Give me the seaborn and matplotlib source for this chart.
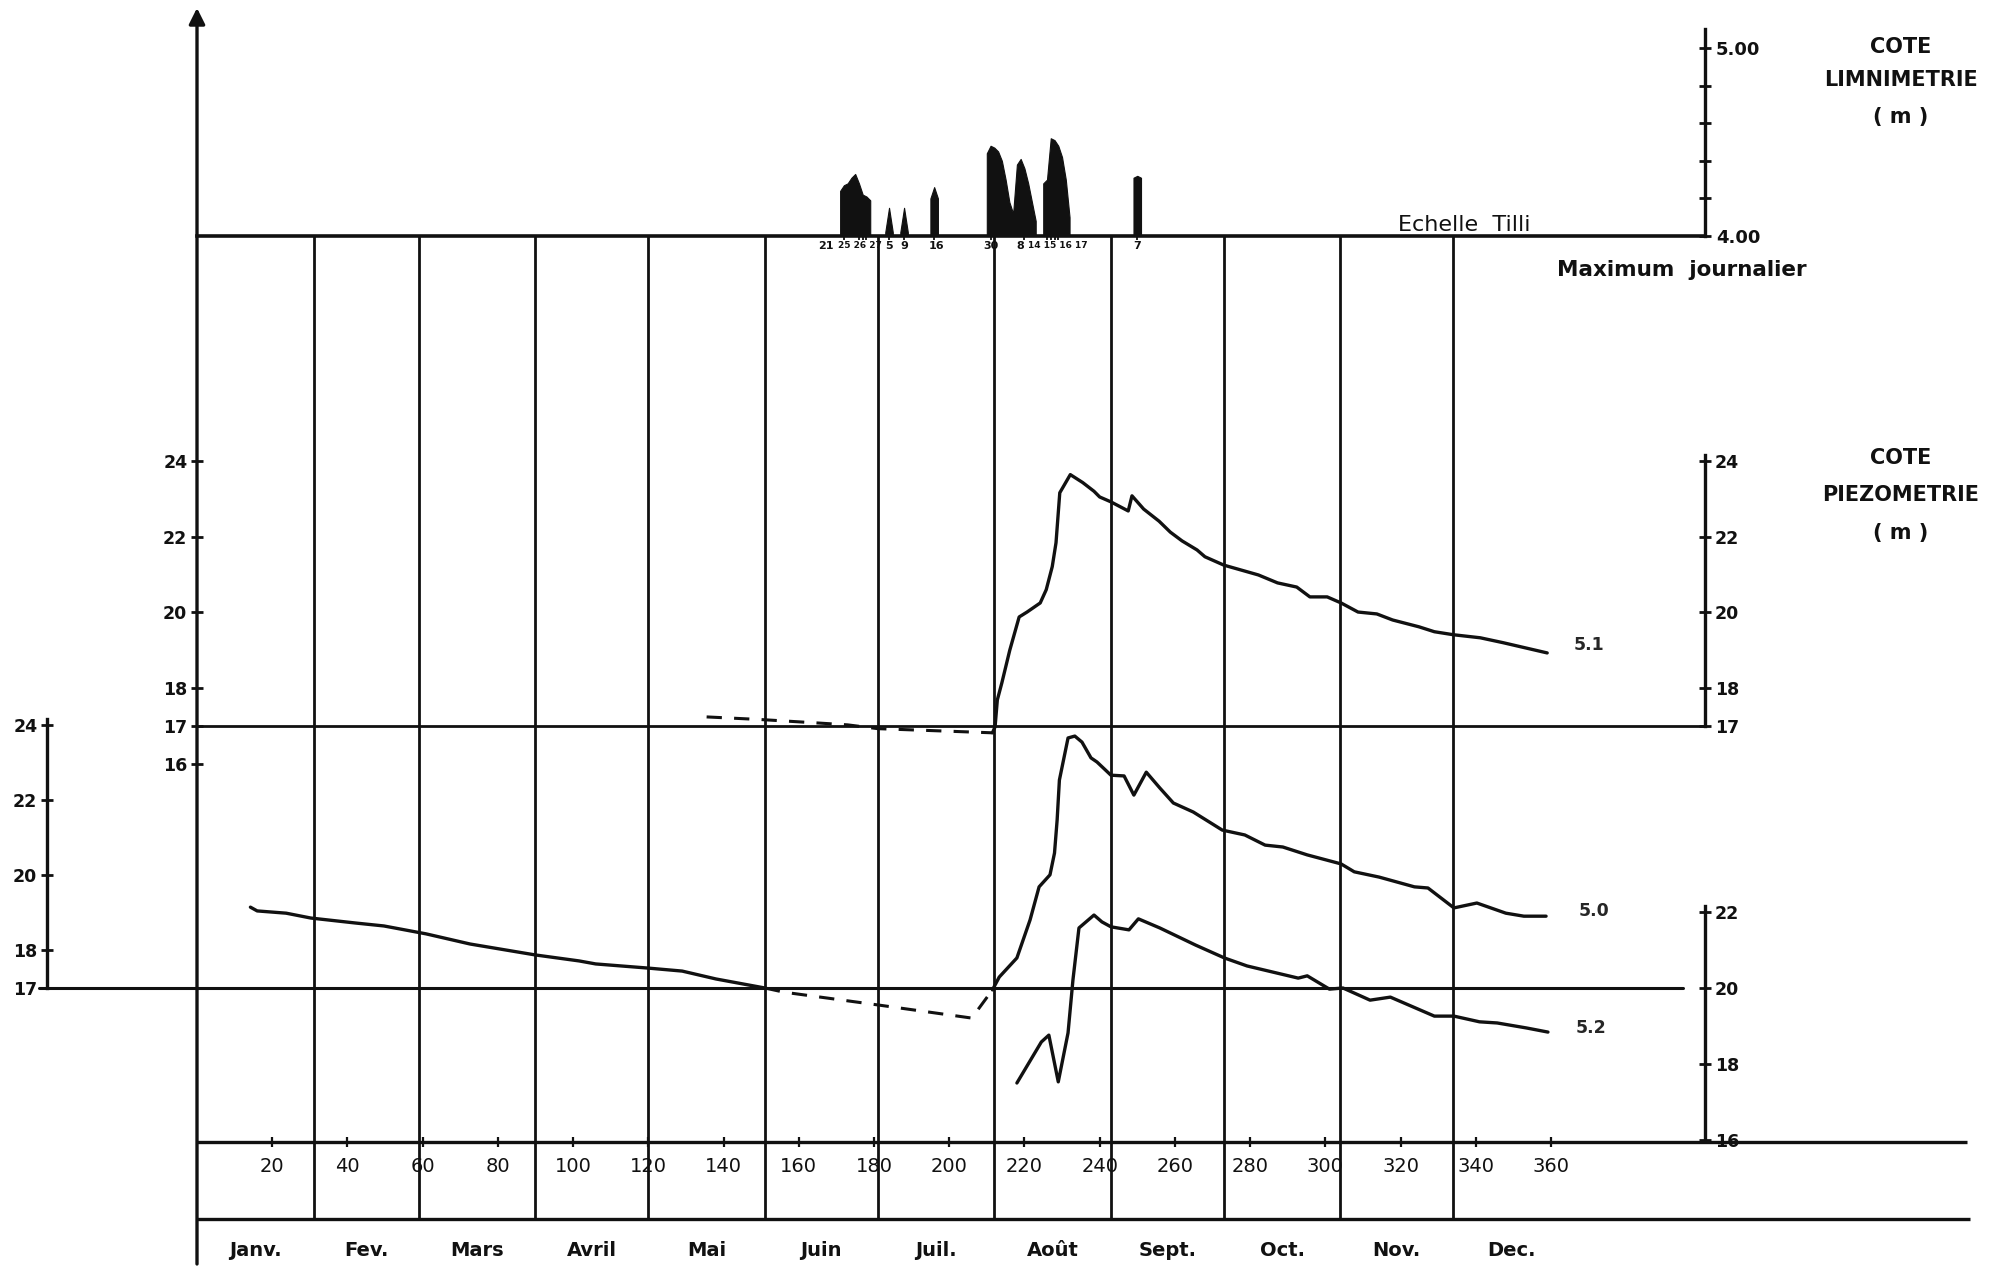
import numpy as np
import pandas as pd
import matplotlib
matplotlib.use("Agg")
import matplotlib.pyplot as plt
import matplotlib.transforms as mtransforms
import seaborn as sns

# ---------------- data ----------------
months = ["Janv.", "Fev.", "Mars", "Avril", "Mai", "Juin", "Juil.", "Août",
          "Sept.", "Oct.", "Nov.", "Dec."]
month_start = [0, 31, 59, 90, 120, 151, 181, 212, 243, 273, 304, 334]
month_mid = [15.5, 45, 74.5, 105, 135.5, 166, 196.5, 227.5, 258, 288.5, 319, 349.5]
day_ticks = list(range(20, 361, 20))

# Echelle Tilli - maximum journalier (m)
limni_event = [1]*9 + [2]*3 + [3]*3 + [4]*3 + [5]*14 + [6]*8 + [7]*3
limni_day = [171, 172, 173, 174, 175, 176, 177, 178, 179,
             183, 184, 185,
             187, 188, 189,
             195, 196, 197,
             210, 211, 212, 213, 214, 215, 216, 217, 218, 219, 220, 221, 222, 223,
             225, 226, 227, 228, 229, 230, 231, 232,
             249, 250, 251]
limni_level = [4.24, 4.27, 4.28, 4.31, 4.33, 4.28, 4.22, 4.21, 4.19,
               4.02, 4.15, 4.02,
               4.02, 4.15, 4.02,
               4.20, 4.26, 4.20,
               4.44, 4.48, 4.47, 4.45, 4.40, 4.30, 4.18, 4.12, 4.38, 4.41, 4.36, 4.28, 4.18, 4.08,
               4.28, 4.30, 4.52, 4.51, 4.48, 4.42, 4.30, 4.10,
               4.31, 4.32, 4.31]
# dated events (tick marks) and their date labels as written under the scale
limni_date_days = [172, 176, 177, 178, 184, 188, 196, 211, 220, 226, 227, 228, 229, 250]
limni_label_days = [167.2, 176.3, 184, 188, 196.5, 211, 219, 229, 250]
limni_label_text = ["21", "25 26 27", "5", "9", "16", "30", "8", "14 15 16 17", "7"]

# Piezometer 5.1
p51_dash_day = [135.5, 150, 165, 173, 181, 195, 211.5]
p51_dash_level = [17.24, 17.17, 17.08, 17.03, 16.93, 16.88, 16.82]
p51_day = [211.5, 212.2, 212.8, 214, 216.1, 218.6, 220.7, 224.2, 225.8, 227.4, 228.4,
           229.4, 232.2, 235.5, 238.5, 240, 243, 247.6, 248.6, 251.7, 255.8, 258.8,
           261.9, 265.9, 268, 273, 282.2, 287.3, 292.4, 295.9, 300.5, 304.2, 308.7,
           313.7, 317.9, 324.9, 329, 334.1, 341.2, 347.3, 359]
p51_level = [16.82, 16.98, 17.69, 18.14, 19.0, 19.88, 20.01, 20.25, 20.6, 21.21, 21.84,
             23.16, 23.64, 23.43, 23.2, 23.05, 22.92, 22.68, 23.08, 22.73, 22.41, 22.12,
             21.89, 21.65, 21.47, 21.25, 20.99, 20.78, 20.67, 20.41, 20.41, 20.25, 20.01,
             19.96, 19.8, 19.62, 19.49, 19.41, 19.33, 19.2, 18.93]

# Piezometer 5.0
p50_early_day = [14.2, 16, 23.7, 30.3, 42, 49.7, 60.9, 72.6, 89.9, 101.6, 106, 119.9,
                 129, 138, 151]
p50_early_level = [19.15, 19.05, 18.99, 18.86, 18.73, 18.65, 18.44, 18.17, 17.88, 17.72,
                   17.64, 17.53, 17.45, 17.24, 17.0]
p50_dash_day = [151, 156, 181, 206, 211.5]
p50_dash_level = [17.0, 16.89, 16.55, 16.2, 16.95]
p50_day = [211.5, 213.3, 218, 221.5, 223.9, 226.8, 228, 228.7, 229.3, 231.6, 233.4,
           235.3, 237.7, 239.3, 243, 246.5, 249.1, 252.4, 256, 259.6, 264.9, 272.6,
           278.6, 284, 288.7, 295.2, 304.2, 307.7, 314.3, 323.7, 327.3, 334.2, 340.3,
           348, 352.8, 358.7]
p50_level = [16.95, 17.29, 17.8, 18.81, 19.69, 20.01, 20.59, 21.47, 22.53, 23.65, 23.70,
             23.54, 23.12, 23.01, 22.66, 22.64, 22.13, 22.74, 22.32, 21.92, 21.68, 21.20,
             21.07, 20.80, 20.75, 20.54, 20.30, 20.09, 19.95, 19.69, 19.66, 19.13, 19.26,
             18.99, 18.91, 18.91]

# Piezometer 5.2
p52_day = [218, 224.5, 226.5, 229, 231.6, 232.9, 234.5, 238.5, 240.6, 243, 247.8, 250.3,
           256, 265.5, 273.2, 279.2, 292.8, 295.2, 301.1, 304.7, 311.9, 317.3, 329,
           334.2, 341, 345.7, 353.4, 359.2]
p52_level = [17.5, 18.58, 18.76, 17.53, 18.82, 20.21, 21.58, 21.92, 21.74, 21.61, 21.53,
             21.82, 21.58, 21.13, 20.79, 20.58, 20.26, 20.32, 19.97, 20.0, 19.68, 19.76,
             19.26, 19.26, 19.11, 19.08, 18.95, 18.84]

# ---------------- style ----------------
sns.set_theme(style="white")
plt.rcParams["font.family"] = ["DejaVu Sans"]
K = "#111111"

W, H, DPI = 2016, 1271, 100
PXD = 3.761          # pixels per day
X0, XR = 197, 1705   # pixel of day 0 / of the right axes
DAY_R = (XR - X0) / PXD


def box(l, t, r, b):
    return [l / W, 1 - b / H, (r - l) / W, (b - t) / H]


def ylim_from(anchor_val, anchor_px, px_per_m, top_px, bot_px):
    return (anchor_val - (bot_px - anchor_px) / px_per_m,
            anchor_val + (anchor_px - top_px) / px_per_m)


fig = plt.figure(figsize=(W / DPI, H / DPI), dpi=DPI)
fig.patch.set_facecolor("white")

# ---------- frame (grid, main axis) ----------
fr = fig.add_axes([0, 0, 1, 1])
fr.set_xlim(-X0 / PXD, (W - X0) / PXD)
fr.set_ylim(H, 0)
fr.axis("off")
fr.vlines(month_start[1:], 236, 1219, color=K, lw=2.0)
fr.hlines(1142, 0, (1967 - X0) / PXD, color=K, lw=2.4)
fr.hlines(1219, 0, (1970 - X0) / PXD, color=K, lw=2.4)
fr.annotate("", xy=(0, 8), xytext=(0, 1264),
            arrowprops=dict(arrowstyle="-|>", color=K, lw=2.4,
                            mutation_scale=24, shrinkA=0, shrinkB=0))


def clean(ax):
    ax.set_facecolor("none")
    for s in ax.spines.values():
        s.set_visible(False)
    ax.set_xlim(0, DAY_R)
    ax.grid(False)


bold12 = dict(fontsize=12.5, fontweight="bold")

# ---------- limnimetry ----------
lim = fig.add_axes(box(X0, 13, XR, 236))
clean(lim)
lim.set_ylim(4.0, 4.0 + (236 - 13) / 188)
ldf = pd.DataFrame({"ev": limni_event, "day": limni_day, "lev": limni_level})
for _, g in ldf.groupby("ev"):
    lim.fill_between(g["day"], 4.0, g["lev"], color=K, lw=0.8, edgecolor=K)
lim.spines["bottom"].set_visible(True)
lim.spines["bottom"].set_linewidth(2.6)
lim.spines["bottom"].set_color(K)
lim.spines["right"].set_visible(True)
lim.spines["right"].set_bounds(4.0, 5.1)
lim.spines["right"].set_linewidth(2.4)
lim.spines["right"].set_color(K)
lim.yaxis.tick_right()
lim.set_yticks([4.0, 4.2, 4.4, 4.6, 4.8, 5.0],
               labels=["4.00", "", "", "", "", "5.00"], fontsize=13, fontweight="bold")
lim.tick_params(axis="y", which="major", right=True, left=False, direction="inout",
                length=8, width=2, color=K, pad=4, labelcolor=K)
lim.set_xticks(limni_date_days, labels=[""] * len(limni_date_days))
lim.tick_params(axis="x", bottom=True, direction="inout", length=6, width=1.3,
                color=K, pad=1)
trans = mtransforms.blended_transform_factory(lim.transData, lim.transAxes)
for d, t in zip(limni_label_days, limni_label_text):
    lim.text(d, -10 / 223, t, transform=trans, ha="center", va="center",
             fontsize=6.5 if " " in t else 8, fontweight="bold", color=K,
             clip_on=False)
lim.text((1398 - X0) / PXD, 4.0 + 11 / 188, "Echelle  Tilli", fontsize=16,
         ha="left", va="center", color=K)
lim.text((1557 - X0) / PXD, 4.0 - 34 / 188, "Maximum  journalier", fontsize=15.5,
         fontweight="bold", ha="left", va="center", color=K, clip_on=False)

# ---------- piezometer 5.1 ----------
p51 = fig.add_axes(box(X0, 236, XR, 1142))
clean(p51)
p51.set_ylim(*ylim_from(17, 726, 37.86, 236, 1142))
p51.axhline(17, color=K, lw=2.0)
sns.lineplot(x=p51_dash_day, y=p51_dash_level, ax=p51, color=K, lw=2.2,
             linestyle=(0, (5, 4)), estimator=None, sort=False)
sns.lineplot(x=p51_day, y=p51_level, ax=p51, color=K, lw=2.4, estimator=None, sort=False)
p51.set_yticks([16, 17, 18, 20, 22, 24], labels=["16", "17", "18", "20", "22", "24"], **bold12)
p51.tick_params(axis="y", left=True, right=False, direction="inout", length=8, width=2,
                color=K, pad=3, labelcolor=K)
p51.tick_params(axis="x", bottom=False, labelbottom=False)
sec = p51.secondary_yaxis("right")
sec.set_yticks([17, 18, 20, 22, 24], labels=["17", "18", "20", "22", "24"], **bold12)
sec.spines["right"].set_bounds(17, 24.15)
sec.spines["right"].set_linewidth(2.4)
sec.spines["right"].set_color(K)
sec.tick_params(axis="y", direction="inout", length=8, width=2, color=K, pad=3,
                labelcolor=K)
p51.text(366, 19.14, "5.1", ha="left", va="center", **bold12)
p51.set_xlabel("")
p51.set_ylabel("")

# ---------- piezometer 5.0 ----------
p50 = fig.add_axes(box(X0, 236, XR, 1142))
clean(p50)
p50.set_ylim(*ylim_from(17, 988, 37.6, 236, 1142))
p50.axhline(17, xmin=(39 - X0) / (XR - X0), xmax=(1683 - X0) / (XR - X0),
            color=K, lw=2.2, clip_on=False)
sns.lineplot(x=p50_early_day, y=p50_early_level, ax=p50, color=K, lw=2.4,
             estimator=None, sort=False)
sns.lineplot(x=p50_dash_day, y=p50_dash_level, ax=p50, color=K, lw=2.2,
             linestyle=(0, (5, 4)), estimator=None, sort=False)
sns.lineplot(x=p50_day, y=p50_level, ax=p50, color=K, lw=2.4, estimator=None, sort=False)
p50.spines["left"].set_visible(True)
p50.spines["left"].set_position(("axes", (47 - X0) / (XR - X0)))
p50.spines["left"].set_bounds(17, 24.15)
p50.spines["left"].set_linewidth(2.4)
p50.spines["left"].set_color(K)
p50.set_yticks([17, 18, 20, 22, 24], labels=["17", "18", "20", "22", "24"], **bold12)
p50.tick_params(axis="y", left=True, direction="inout", length=8, width=2, color=K,
                pad=3, labelcolor=K)
p50.tick_params(axis="x", bottom=False, labelbottom=False)
p50.text(367.4, 19.05, "5.0", ha="left", va="center", **bold12)
p50.set_xlabel("")
p50.set_ylabel("")

# ---------- piezometer 5.2 + day axis ----------
p52 = fig.add_axes(box(X0, 236, XR, 1142))
clean(p52)
p52.set_ylim(*ylim_from(20, 988, 38.0, 236, 1142))
sns.lineplot(x=p52_day, y=p52_level, ax=p52, color=K, lw=2.4, estimator=None, sort=False)
p52.spines["right"].set_visible(True)
p52.spines["right"].set_bounds(16, 22.15)
p52.spines["right"].set_linewidth(2.4)
p52.spines["right"].set_color(K)
p52.yaxis.tick_right()
p52.set_yticks([16, 18, 20, 22], labels=["16", "18", "20", "22"], **bold12)
p52.tick_params(axis="y", right=True, left=False, direction="inout", length=8, width=2,
                color=K, pad=3, labelcolor=K)
p52.set_xticks(day_ticks, labels=[str(d) for d in day_ticks], fontsize=14)
p52.set_xticks(month_mid, labels=months, minor=True, fontsize=14, fontweight="bold")
p52.tick_params(axis="x", which="major", bottom=True, direction="inout", length=7,
                width=1.6, color=K, pad=7.5, labelcolor=K)
p52.tick_params(axis="x", which="minor", bottom=True, length=0, pad=71, labelcolor=K)
p52.text(366.5, 18.95, "5.2", ha="left", va="center", **bold12)
p52.set_xlabel("")
p52.set_ylabel("")

# ---------- titles on the right ----------
for txt, y in [("COTE", 47), ("LIMNIMETRIE", 80), ("( m )", 117),
               ("COTE", 458), ("PIEZOMETRIE", 495), ("( m )", 533)]:
    fig.text(1901 / W, 1 - y / H, txt, ha="center", va="center", fontsize=15,
             fontweight="bold", color=K)

fig.savefig("out.png", dpi=DPI, facecolor="white")
